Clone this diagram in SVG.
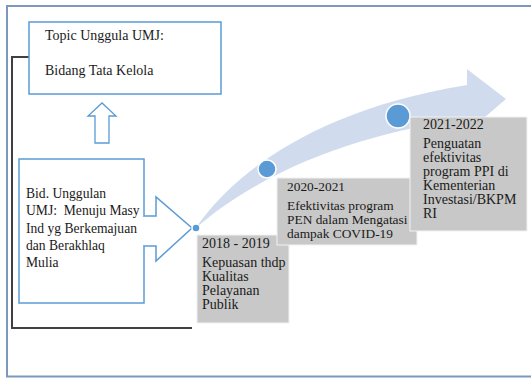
<svg xmlns="http://www.w3.org/2000/svg" width="531" height="378" viewBox="0 0 531 378">
<style>
text{font-family:'Liberation Serif','DejaVu Serif',serif;font-size:14px;fill:#1a1a1a}
.sm{font-size:13.6px}
.s2{font-size:13.4px}
.box{fill:#fff;stroke:#5b9bd5;stroke-width:1.5}
.gray{fill:#c8c8c8;stroke:#f2f2f2;stroke-width:1}
.dot{fill:#5b9bd5;stroke:#fff;stroke-width:1.5}
</style>
<rect width="531" height="378" fill="#fff"/>
<rect x="7" y="6" width="540" height="370.5" fill="none" stroke="#7b99be" stroke-width="2"/>
<g id="connectors">
<polyline points="29,57 12,57 12,328 192,328" fill="none" stroke="#404040" stroke-width="2"/>
<path id="up-arrow" d="M95,143 L95,116 L88,116 L102,103 L116,116 L109,116 L109,143 Z" fill="#fff" stroke="#5b9bd5" stroke-width="1.3"/>
<path id="swoosh" d="M196,228 C225,185 300,112 467,85 L467,69 L506,99 L470,130 L468,118 C330,138 245,185 196,228 Z" fill="#d0dcee"/>
</g>
<g id="topic">
<rect class="box" x="29" y="22" width="192" height="72"/>
<text x="45" y="39.5">Topic Unggula UMJ:</text>
<text x="45" y="74.5">Bidang Tata Kelola</text>
</g>
<g id="bidang">
<rect class="box" x="19" y="159" width="125" height="144"/>
<path d="M144,216 L156,216 L156,197 L192,228 L156,261 L156,246 L144,246" fill="#fff" stroke="#5b9bd5" stroke-width="1.5"/>
<line x1="144" y1="217" x2="144" y2="245" stroke="#fff" stroke-width="2"/>
<text class="sm" x="26" y="197.5">Bid. Unggulan</text>
<text class="sm" x="26" y="215" xml:space="preserve">UMJ:  Menuju Masy</text>
<text class="sm" x="26" y="232.5">Ind yg Berkemajuan</text>
<text class="sm" x="26" y="249.5">dan Berakhlaq</text>
<text class="sm" x="26" y="266.5">Mulia</text>
</g>
<g id="dots">
<circle class="dot" cx="196" cy="228" r="4"/>
<circle class="dot" cx="267" cy="169" r="9"/>
<circle class="dot" cx="398" cy="116" r="12"/>
</g>
<g id="step1">
<rect class="gray" x="197" y="235" width="92" height="88"/>
<text x="202" y="247.5">2018 - 2019</text>
<text x="202" y="266.5">Kepuasan thdp</text>
<text x="202" y="280.5">Kualitas</text>
<text x="202" y="294.5">Pelayanan</text>
<text x="202" y="308.5">Publik</text>
</g>
<g id="step2">
<rect class="gray" x="277" y="178" width="140" height="67"/>
<text class="s2" x="287" y="190.5">2020-2021</text>
<text class="s2" x="287" y="209.5">Efektivitas program</text>
<text class="s2" x="287" y="223.5">PEN dalam Mengatasi</text>
<text class="s2" x="287" y="237.5">dampak COVID-19</text>
</g>
<g id="step3">
<rect class="gray" x="410" y="117" width="117" height="114"/>
<text x="423" y="128.5">2021-2022</text>
<text x="423" y="147.5">Penguatan</text>
<text x="423" y="162">efektivitas</text>
<text x="423" y="176">program PPI di</text>
<text x="423" y="190">Kementerian</text>
<text x="423" y="204">Investasi/BKPM</text>
<text x="423" y="218">RI</text>
</g>
</svg>
